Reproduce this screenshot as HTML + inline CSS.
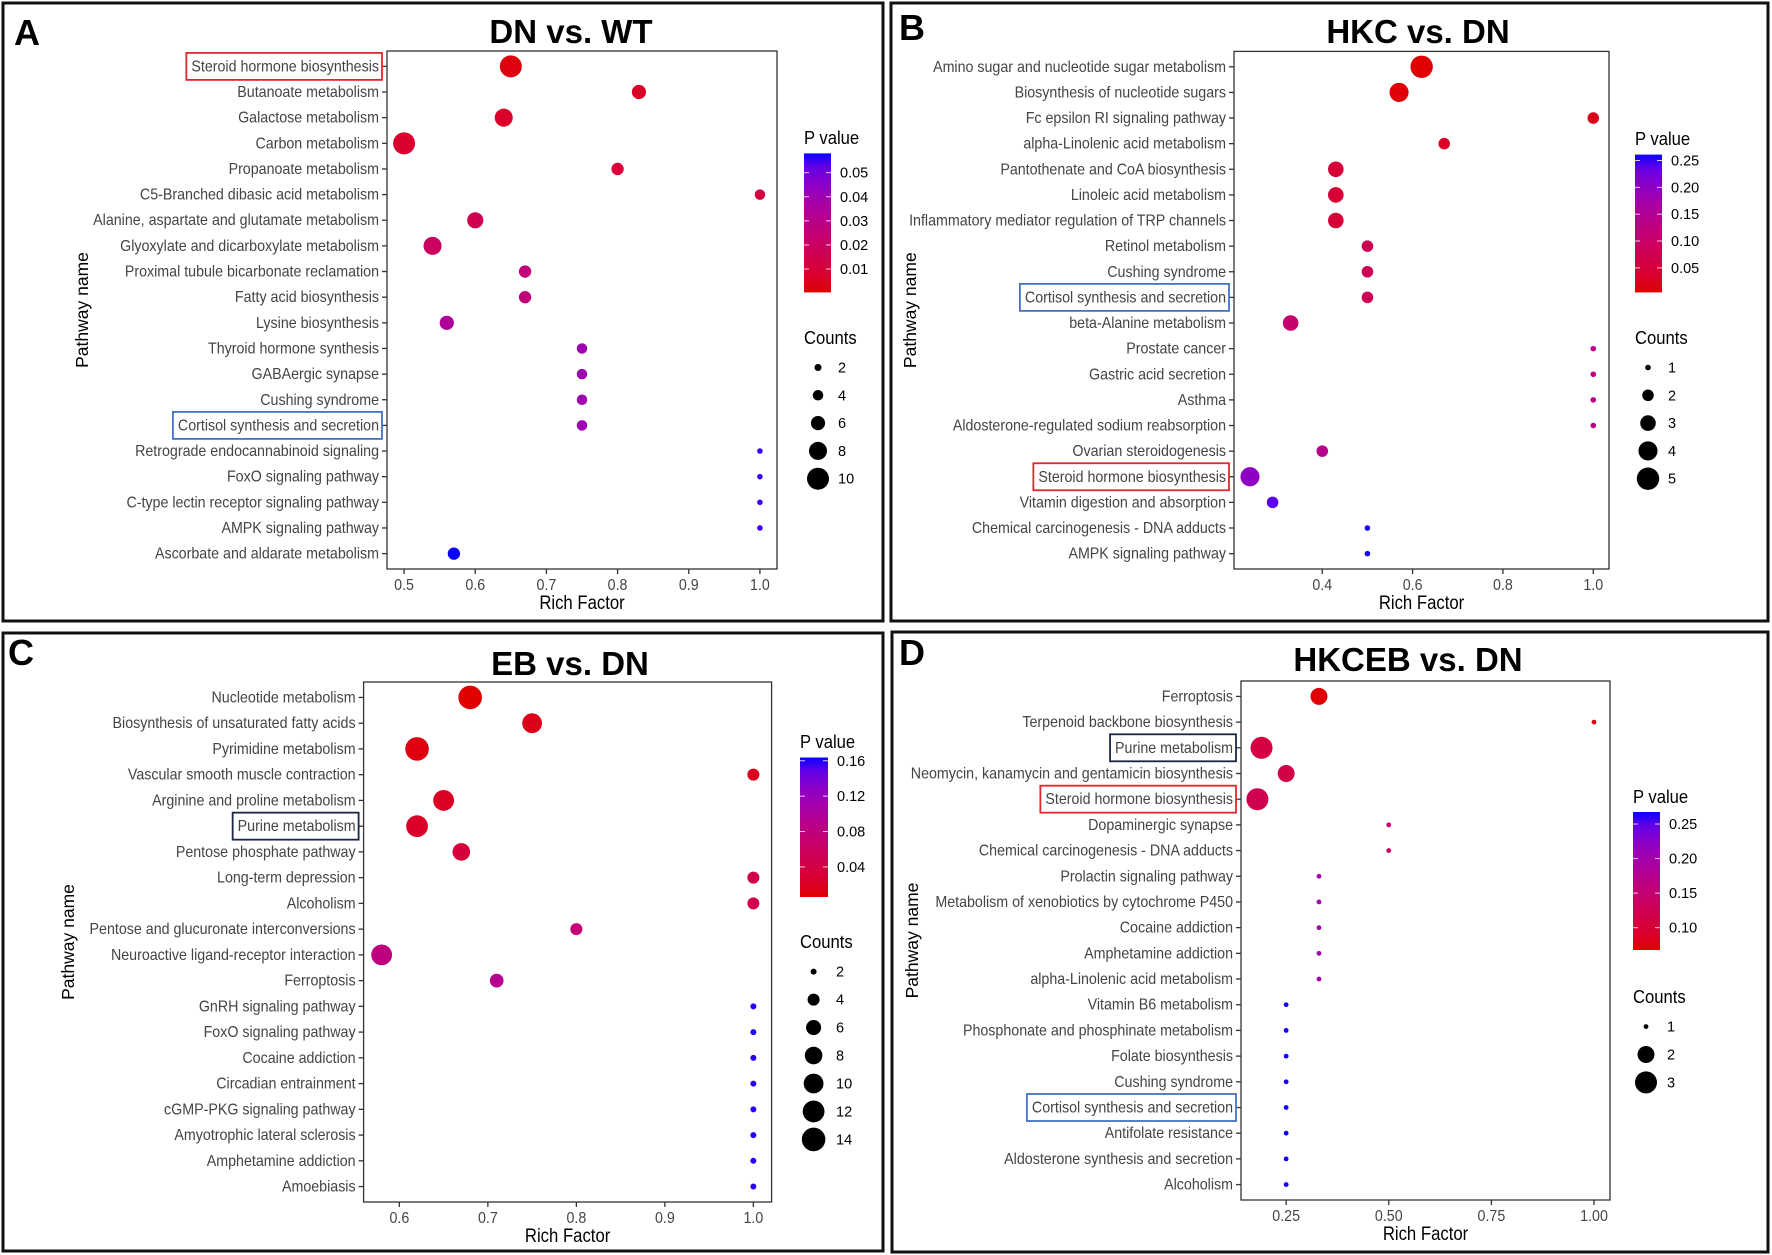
<!DOCTYPE html>
<html><head><meta charset="utf-8"><title>KEGG enrichment bubble charts</title>
<style>
html,body{margin:0;padding:0;background:#fff;}
svg{display:block;font-family:"Liberation Sans",Arial,sans-serif;}
</style></head>
<body>
<svg id="fig" width="1772" height="1255" viewBox="0 0 1772 1255" xmlns="http://www.w3.org/2000/svg">
<rect x="0" y="0" width="1772" height="1255" fill="#fff"/>
</svg>
<script>
// ---------- Panel A: DN vs. WT ----------
const aPathways = ["Steroid hormone biosynthesis","Butanoate metabolism","Galactose metabolism","Carbon metabolism","Propanoate metabolism","C5-Branched dibasic acid metabolism","Alanine, aspartate and glutamate metabolism","Glyoxylate and dicarboxylate metabolism","Proximal tubule bicarbonate reclamation","Fatty acid biosynthesis","Lysine biosynthesis","Thyroid hormone synthesis","GABAergic synapse","Cushing syndrome","Cortisol synthesis and secretion","Retrograde endocannabinoid signaling","FoxO signaling pathway","C-type lectin receptor signaling pathway","AMPK signaling pathway","Ascorbate and aldarate metabolism"];
const aRich = [0.65,0.83,0.64,0.50,0.80,1.00,0.60,0.54,0.67,0.67,0.56,0.75,0.75,0.75,0.75,1.00,1.00,1.00,1.00,0.57];
const aCounts = [10,6,8,10,5,4,7,8,5,5,6,4,4,4,4,1,1,1,1,5];
const aPvals = [0.002,0.006,0.007,0.008,0.010,0.012,0.016,0.020,0.026,0.026,0.034,0.040,0.040,0.040,0.040,0.056,0.056,0.056,0.056,0.058];
const aXTicks = [0.5,0.6,0.7,0.8,0.9,1.0];
const aXTickLabels = ["0.5","0.6","0.7","0.8","0.9","1.0"];
const aPTicks = [0.01,0.02,0.03,0.04,0.05];
const aPTickLabels = ["0.01","0.02","0.03","0.04","0.05"];
const aCountBreaks = [2,4,6,8,10];
const aHighlights = ["Steroid hormone biosynthesis","Cortisol synthesis and secretion"];

// ---------- Panel B: HKC vs. DN ----------
const bPathways = ["Amino sugar and nucleotide sugar metabolism","Biosynthesis of nucleotide sugars","Fc epsilon RI signaling pathway","alpha-Linolenic acid metabolism","Pantothenate and CoA biosynthesis","Linoleic acid metabolism","Inflammatory mediator regulation of TRP channels","Retinol metabolism","Cushing syndrome","Cortisol synthesis and secretion","beta-Alanine metabolism","Prostate cancer","Gastric acid secretion","Asthma","Aldosterone-regulated sodium reabsorption","Ovarian steroidogenesis","Steroid hormone biosynthesis","Vitamin digestion and absorption","Chemical carcinogenesis - DNA adducts","AMPK signaling pathway"];
const bRich = [0.62,0.57,1.00,0.67,0.43,0.43,0.43,0.50,0.50,0.50,0.33,1.00,1.00,1.00,1.00,0.40,0.24,0.29,0.50,0.50];
const bCounts = [5,4,2,2,3,3,3,2,2,2,3,1,1,1,1,2,4,2,1,1];
const bPvals = [0.005,0.008,0.020,0.030,0.045,0.045,0.045,0.075,0.075,0.075,0.105,0.130,0.130,0.130,0.130,0.140,0.200,0.240,0.260,0.260];
const bXTicks = [0.4,0.6,0.8,1.0];
const bXTickLabels = ["0.4","0.6","0.8","1.0"];
const bPTicks = [0.05,0.10,0.15,0.20,0.25];
const bPTickLabels = ["0.05","0.10","0.15","0.20","0.25"];
const bCountBreaks = [1,2,3,4,5];
const bHighlights = ["Cortisol synthesis and secretion","Steroid hormone biosynthesis"];

// ---------- Panel C: EB vs. DN ----------
const cPathways = ["Nucleotide metabolism","Biosynthesis of unsaturated fatty acids","Pyrimidine metabolism","Vascular smooth muscle contraction","Arginine and proline metabolism","Purine metabolism","Pentose phosphate pathway","Long-term depression","Alcoholism","Pentose and glucuronate interconversions","Neuroactive ligand-receptor interaction","Ferroptosis","GnRH signaling pathway","FoxO signaling pathway","Cocaine addiction","Circadian entrainment","cGMP-PKG signaling pathway","Amyotrophic lateral sclerosis","Amphetamine addiction","Amoebiasis"];
const cRich = [0.68,0.75,0.62,1.00,0.65,0.62,0.67,1.00,1.00,0.80,0.58,0.71,1.00,1.00,1.00,1.00,1.00,1.00,1.00,1.00];
const cCounts = [14,10,14,4,11,12,8,4,4,4,11,5,2,2,2,2,2,2,2,2];
const cPvals = [0.005,0.014,0.011,0.017,0.019,0.022,0.034,0.045,0.048,0.075,0.080,0.090,0.162,0.162,0.162,0.162,0.162,0.162,0.162,0.162];
const cXTicks = [0.6,0.7,0.8,0.9,1.0];
const cXTickLabels = ["0.6","0.7","0.8","0.9","1.0"];
const cPTicks = [0.04,0.08,0.12,0.16];
const cPTickLabels = ["0.04","0.08","0.12","0.16"];
const cCountBreaks = [2,4,6,8,10,12,14];
const cHighlights = ["Purine metabolism"];

// ---------- Panel D: HKCEB vs. DN ----------
const dPathways = ["Ferroptosis","Terpenoid backbone biosynthesis","Purine metabolism","Neomycin, kanamycin and gentamicin biosynthesis","Steroid hormone biosynthesis","Dopaminergic synapse","Chemical carcinogenesis - DNA adducts","Prolactin signaling pathway","Metabolism of xenobiotics by cytochrome P450","Cocaine addiction","Amphetamine addiction","alpha-Linolenic acid metabolism","Vitamin B6 metabolism","Phosphonate and phosphinate metabolism","Folate biosynthesis","Cushing syndrome","Cortisol synthesis and secretion","Antifolate resistance","Aldosterone synthesis and secretion","Alcoholism"];
const dRich = [0.33,1.00,0.19,0.25,0.18,0.50,0.50,0.33,0.33,0.33,0.33,0.33,0.25,0.25,0.25,0.25,0.25,0.25,0.25,0.25];
const dCounts = [2,1,3,2,3,1,1,1,1,1,1,1,1,1,1,1,1,1,1,1];
const dPvals = [0.068,0.075,0.110,0.112,0.122,0.140,0.140,0.200,0.200,0.200,0.200,0.200,0.267,0.267,0.267,0.267,0.267,0.267,0.267,0.267];
const dXTicks = [0.25,0.50,0.75,1.00];
const dXTickLabels = ["0.25","0.50","0.75","1.00"];
const dPTicks = [0.10,0.15,0.20,0.25];
const dPTickLabels = ["0.10","0.15","0.20","0.25"];
const dCountBreaks = [1,2,3];
const dHighlights = ["Purine metabolism","Steroid hormone biosynthesis","Cortisol synthesis and secretion"];

const highlightColors = {"Steroid hormone biosynthesis":"#e3262b","Cortisol synthesis and secretion":"#4472c4","Purine metabolism":"#1d2545"};

// ---------- helpers ----------
const NS = "http://www.w3.org/2000/svg";
const svg = document.getElementById('fig');
const LBL_SX = 0.92;
function mk(tag, attrs, parent){
  const e = document.createElementNS(NS, tag);
  for (const k in attrs) e.setAttribute(k, attrs[k]);
  (parent||svg).appendChild(e);
  return e;
}
function srgb2lin(c){c/=255;return c<=0.04045?c/12.92:Math.pow((c+0.055)/1.055,2.4);}
function lin2srgb(c){c=c<=0.0031308?12.92*c:1.055*Math.pow(c,1/2.4)-0.055;return Math.max(0,Math.min(255,Math.round(c*255)));}
function rgb2lab(r,g,b){
  r=srgb2lin(r);g=srgb2lin(g);b=srgb2lin(b);
  let x=(0.4124*r+0.3576*g+0.1805*b)/0.95047,y=(0.2126*r+0.7152*g+0.0722*b),z=(0.0193*r+0.1192*g+0.9505*b)/1.08883;
  const f=t=>t>0.008856?Math.cbrt(t):7.787*t+16/116;
  x=f(x);y=f(y);z=f(z);
  return [116*y-16,500*(x-y),200*(y-z)];
}
function lab2rgb(L,a,bb){
  let y=(L+16)/116,x=a/500+y,z=y-bb/200;
  const fi=t=>t*t*t>0.008856?t*t*t:(t-16/116)/7.787;
  x=fi(x)*0.95047;y=fi(y);z=fi(z)*1.08883;
  const r=3.2406*x-1.5372*y-0.4986*z,g=-0.9689*x+1.8758*y+0.0415*z,b=0.0557*x-0.2040*y+1.0570*z;
  return [lin2srgb(r),lin2srgb(g),lin2srgb(b)];
}
const LOW = rgb2lab(224,0,0), HIGH = rgb2lab(10,0,255);
function gradColor(t){
  t=Math.max(0,Math.min(1,t));
  const c=lab2rgb(LOW[0]+(HIGH[0]-LOW[0])*t,LOW[1]+(HIGH[1]-LOW[1])*t,LOW[2]+(HIGH[2]-LOW[2])*t);
  return "rgb("+c.join(",")+")";
}

function drawPanel(P){
  const g = mk('g',{});
  
  
  const bd = mk('rect',{x:P.border[0],y:P.border[1],width:P.border[2]-P.border[0],height:P.border[3]-P.border[1],fill:'none',stroke:'#111','stroke-width':3},g);
  
  
  const lt = mk('text',{x:P.letter[0],y:P.letter[1],'font-size':36,'font-weight':'bold',fill:'#000'},g);
  lt.textContent = P.letterText;
  
  
  const tt = mk('text',{x:P.title[0],y:P.title[1],'font-size':33,'font-weight':'bold','text-anchor':'middle',fill:'#000'},g);
  tt.textContent = P.titleText;
  
  

  const pl = P.plot;
  const n = P.pathways.length;
  const step = (pl.y1-pl.y0)/(n-1+1.2);
  const yScale = i => pl.y0 + 0.6*step + i*step;
  const xScale = v => pl.x0 + (v-P.xdom[0])/(P.xdom[1]-P.xdom[0])*(pl.x1-pl.x0);
  const cScale = p => gradColor((p-P.pdom[0])/(P.pdom[1]-P.pdom[0]));
  const rScale = c => P.sz.rmin + (P.sz.rmax-P.sz.rmin)*Math.pow(Math.max(0,(c-P.sz.cmin)/(P.sz.cmax-P.sz.cmin)),P.sz.pow);

  const frame = mk('rect',{x:pl.x0,y:pl.y0,width:pl.x1-pl.x0,height:pl.y1-pl.y0,fill:'#fff',stroke:'#333','stroke-width':1.3},g);
  
  

  const lblRight = pl.x0 - 8;
  P.pathways.forEach((name,i)=>{
    const y = yScale(i);
    mk('line',{x1:pl.x0-5,x2:pl.x0,y1:y,y2:y,stroke:'#333','stroke-width':1.3},g);
    const t = mk('text',{transform:`translate(${lblRight},${y+5}) scale(${LBL_SX},1)`,'font-size':15.5,'text-anchor':'end',fill:'#444'},g);
    t.textContent = name;
    
    
    if (P.highlights.indexOf(name)>=0){
      const w = t.getComputedTextLength()*LBL_SX;
      const hb = mk('rect',{x:lblRight-w-5,y:y-13.5,width:w+8,height:27,fill:'none',stroke:highlightColors[name],'stroke-width':1.8},g);
      
      
    }
  });
  P.xTicks.forEach((v,i)=>{
    const x = xScale(v);
    mk('line',{x1:x,x2:x,y1:pl.y1,y2:pl.y1+5,stroke:'#333','stroke-width':1.3},g);
    const t = mk('text',{transform:`translate(${x},${pl.y1+21}) scale(${LBL_SX},1)`,'font-size':15.5,'text-anchor':'middle',fill:'#444'},g);
    t.textContent = P.xTickLabels[i];
    
    
  });
  const xt = mk('text',{transform:`translate(${(pl.x0+pl.x1)/2},${pl.y1+40}) scale(0.88,1)`,'font-size':19,'text-anchor':'middle',fill:'#000'},g);
  xt.textContent = 'Rich Factor';
  
  
  const yt = mk('text',{transform:`translate(${P.ytitleX},${(pl.y0+pl.y1)/2}) rotate(-90)`,'font-size':17.5,'text-anchor':'middle',fill:'#000'},g);
  yt.textContent = 'Pathway name';
  
  

  P.pathways.forEach((name,i)=>{
    const c = mk('circle',{cx:xScale(P.rich[i]),cy:yScale(i),r:rScale(P.counts[i]),fill:cScale(P.pvals[i])},g);
    
    
  });

  const cb = P.cbar;
  const pt = mk('text',{transform:`translate(${cb.x},${cb.titleY}) scale(0.9,1)`,'font-size':18.5,fill:'#000'},g);
  pt.textContent = 'P value';
  
  
  const gid = 'grad-'+P.id;
  const defs = mk('defs',{},g);
  const lg = mk('linearGradient',{id:gid,x1:0,y1:1,x2:0,y2:0},defs);
  for(let k=0;k<=10;k++){ mk('stop',{offset:k/10,'stop-color':gradColor(k/10)},lg); }
  const bar = mk('rect',{x:cb.x,y:cb.y0,width:cb.w,height:cb.y1-cb.y0,fill:`url(#${gid})`},g);
  
  
  const pY = p => cb.y1 - (p-P.pdom[0])/(P.pdom[1]-P.pdom[0])*(cb.y1-cb.y0);
  P.pTicks.forEach((p,i)=>{
    const y = pY(p);
    mk('line',{x1:cb.x,x2:cb.x+5,y1:y,y2:y,stroke:'#fff','stroke-width':1,'stroke-opacity':0.8},g);
    mk('line',{x1:cb.x+cb.w-5,x2:cb.x+cb.w,y1:y,y2:y,stroke:'#fff','stroke-width':1,'stroke-opacity':0.8},g);
    const t = mk('text',{x:cb.x+cb.w+9,y:y+5,'font-size':14.5,fill:'#000'},g);
    t.textContent = P.pTickLabels[i];
    
    
  });
  const sl = P.slegend;
  const ct = mk('text',{transform:`translate(${cb.x},${sl.titleY}) scale(0.9,1)`,'font-size':18.5,fill:'#000'},g);
  ct.textContent = 'Counts';
  
  
  P.countBreaks.forEach((c,i)=>{
    const y = sl.y0 + i*sl.step;
    const d = mk('circle',{cx:sl.cx,cy:y,r:rScale(c),fill:'#000'},g);
    
    
    const t = mk('text',{x:sl.lx,y:y+5,'font-size':14.5,fill:'#000'},g);
    t.textContent = String(c);
    
    
  });
}

drawPanel({id:'a',letterText:'A',titleText:'DN vs. WT',border:[3,3,883,621],letter:[14,45],title:[571,43],
  plot:{x0:387,x1:777,y0:51,y1:569},xdom:[0.476,1.024],pdom:[0.0003,0.058],ytitleX:88,
  pathways:aPathways,rich:aRich,counts:aCounts,pvals:aPvals,xTicks:aXTicks,xTickLabels:aXTickLabels,
  pTicks:aPTicks,pTickLabels:aPTickLabels,countBreaks:aCountBreaks,highlights:aHighlights,
  sz:{cmin:1,cmax:10,rmin:2.8,rmax:11,pow:1.1},
  cbar:{x:804,w:27,y0:153.4,y1:292.4,titleY:144},slegend:{titleY:344,y0:367.5,step:27.8,cx:818,lx:838}});

drawPanel({id:'b',letterText:'B',titleText:'HKC vs. DN',border:[891,3,1768,621],letter:[899,40],title:[1418,43],
  plot:{x0:1234,x1:1609,y0:51.4,y1:569},xdom:[0.2046,1.0348],pdom:[0.0043,0.261],ytitleX:916,
  pathways:bPathways,rich:bRich,counts:bCounts,pvals:bPvals,xTicks:bXTicks,xTickLabels:bXTickLabels,
  pTicks:bPTicks,pTickLabels:bPTickLabels,countBreaks:bCountBreaks,highlights:bHighlights,
  sz:{cmin:1,cmax:5,rmin:2.8,rmax:11.2,pow:0.75},
  cbar:{x:1635,w:27,y0:154.6,y1:292.4,titleY:145},slegend:{titleY:344,y0:367.5,step:27.8,cx:1648,lx:1668}});

drawPanel({id:'c',letterText:'C',titleText:'EB vs. DN',border:[3,633,883,1251],letter:[8,665],title:[570,675],
  plot:{x0:363.6,x1:771.6,y0:682,y1:1202},xdom:[0.5596,1.0206],pdom:[0.006,0.1637],ytitleX:74,
  pathways:cPathways,rich:cRich,counts:cCounts,pvals:cPvals,xTicks:cXTicks,xTickLabels:cXTickLabels,
  pTicks:cPTicks,pTickLabels:cPTickLabels,countBreaks:cCountBreaks,highlights:cHighlights,
  sz:{cmin:2,cmax:14,rmin:3,rmax:11.8,pow:0.6},
  cbar:{x:800,w:28,y0:757.5,y1:897,titleY:748},slegend:{titleY:948,y0:971.6,step:27.97,cx:813.6,lx:836}});

drawPanel({id:'d',letterText:'D',titleText:'HKCEB vs. DN',border:[892,632,1768,1252],letter:[899,665],title:[1408,671],
  plot:{x0:1241,x1:1610,y0:681,y1:1200},xdom:[0.14,1.039],pdom:[0.0677,0.2674],ytitleX:918,
  pathways:dPathways,rich:dRich,counts:dCounts,pvals:dPvals,xTicks:dXTicks,xTickLabels:dXTickLabels,
  pTicks:dPTicks,pTickLabels:dPTickLabels,countBreaks:dCountBreaks,highlights:dHighlights,
  sz:{cmin:1,cmax:3,rmin:2.4,rmax:11,pow:0.5},
  cbar:{x:1633,w:27,y0:812,y1:950,titleY:803},slegend:{titleY:1003,y0:1026.6,step:27.9,cx:1646,lx:1667}});
</script>
</body></html>
